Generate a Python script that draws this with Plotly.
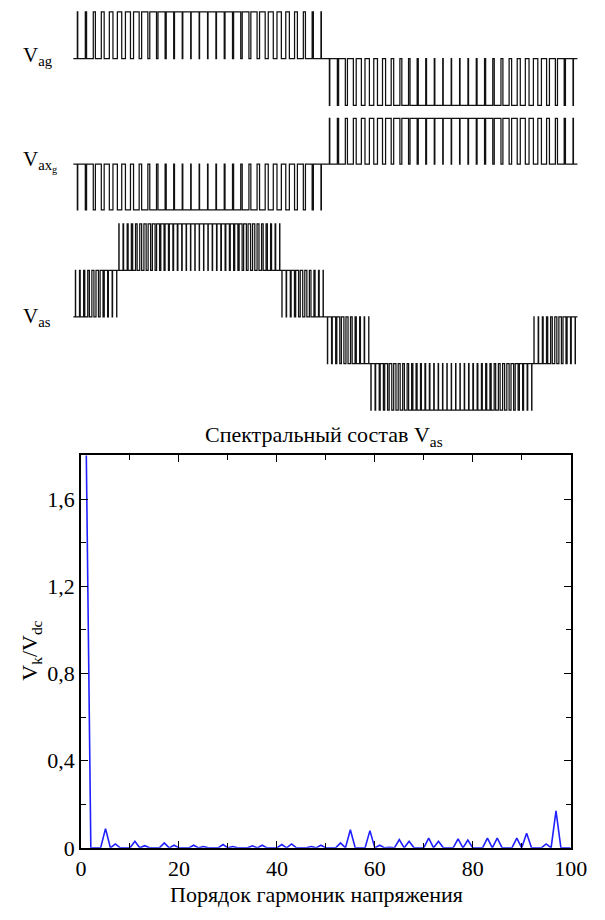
import plotly.graph_objects as go

# ---------------------------------------------------------------------------
# Spectrum of the phase voltage (amplitude of each harmonic, relative to Vdc)
# ---------------------------------------------------------------------------
harmonic_order = list(range(1, 101))
harmonic_amplitude = [
    1.95, 0, 0.0, 0, 0.088, 0, 0.018, 0, 0.0, 0,      # 1..10
    0.03, 0, 0.01, 0, 0.0, 0, 0.023, 0, 0.012, 0,     # 11..20
    0.0, 0, 0.012, 0, 0.006, 0, 0.0, 0, 0.015, 0,     # 21..30
    0.006, 0, 0.0, 0, 0.009, 0, 0.012, 0, 0.0, 0,     # 31..40
    0.015, 0, 0.018, 0, 0.0, 0, 0.006, 0, 0.012, 0,   # 41..50
    0.0, 0, 0.023, 0, 0.083, 0, 0.0, 0, 0.079, 0,     # 51..60
    0.012, 0, 0.003, 0, 0.038, 0, 0.03, 0, 0.0, 0,    # 61..70
    0.045, 0, 0.03, 0, 0.0, 0, 0.041, 0, 0.036, 0,    # 71..80
    0.0, 0, 0.045, 0, 0.045, 0, 0.0, 0, 0.045, 0,     # 81..90
    0.067, 0, 0.0, 0, 0.018, 0, 0.17, 0, 0.0, 0,      # 91..100
]

x_tick_values = [0, 20, 40, 60, 80, 100]
x_tick_labels = ["0", "20", "40", "60", "80", "100"]
y_tick_values = [0, 0.4, 0.8, 1.2, 1.6]
y_tick_labels = ["0", "0,4", "0,8", "1,2", "1,6"]

# ---------------------------------------------------------------------------
# Switching waveforms: duty of the active level in each carrier period
# ---------------------------------------------------------------------------
# leg voltage, one half-cycle of 30 carrier periods
leg_duty = [0.05, 0.15, 0.25, 0.34, 0.43, 0.52, 0.60, 0.67, 0.74, 0.80,
            0.85, 0.89, 0.92, 0.94, 0.95, 0.95, 0.94, 0.92, 0.89, 0.85,
            0.80, 0.74, 0.67, 0.60, 0.52, 0.43, 0.34, 0.25, 0.15, 0.05]

# phase voltage, one half-cycle of 58 carrier periods split in three bands
phase_duty_outer = [0.05, 0.16, 0.26, 0.37, 0.47, 0.57, 0.67, 0.77, 0.86, 0.95]
phase_duty_inner = [0.05, 0.13, 0.22, 0.30, 0.37, 0.44, 0.51, 0.58, 0.63, 0.69,
                    0.74, 0.78, 0.82, 0.85, 0.88, 0.91, 0.92, 0.93, 0.94,
                    0.94, 0.93, 0.92, 0.91, 0.88, 0.85, 0.82, 0.78, 0.74,
                    0.69, 0.63, 0.58, 0.51, 0.44, 0.37, 0.30, 0.22, 0.13, 0.05]

FONT = "Liberation Serif, Times New Roman, DejaVu Serif, serif"
W, H = 605, 920


def px_x(p):
    return p / W


def px_y(p):
    return 1 - p / H


def pwm_band(t0, period, duties, idle, active, xs, ys):
    """Append centre-aligned pulses (idle -> active -> idle) to xs/ys."""
    for k, d in enumerate(duties):
        a = t0 + k * period
        c = a + period / 2
        w = d * period
        xs += [a, c - w / 2, c + w / 2]
        ys += [idle, active, idle]
    return t0 + len(duties) * period


def leg_wave(sign_first):
    xs, ys = [], []
    p = 180 / len(leg_duty)
    t = pwm_band(0, p, leg_duty, 0, sign_first, xs, ys)
    t = pwm_band(t, p, leg_duty, 0, -sign_first, xs, ys)
    xs.append(t)
    ys.append(0)
    return xs, ys


def phase_wave():
    xs, ys = [], []
    n = 2 * len(phase_duty_outer) + len(phase_duty_inner)
    p = 180 / n
    t = 0
    for s in (1, -1):
        t = pwm_band(t, p, phase_duty_outer, 0, s, xs, ys)
        t = pwm_band(t, p, phase_duty_inner, s, 2 * s, xs, ys)
        t = pwm_band(t, p, phase_duty_outer[::-1], 0, s, xs, ys)
    xs.append(t)
    ys.append(0)
    return xs, ys


fig = go.Figure()

# horizontal placement of the waveform strips (pixels)
wx0, wx1 = 70, 594
pad_deg = 2
deg_px = (wx1 - wx0) / 360
wave_dom = [px_x(wx0 - pad_deg * deg_px), px_x(wx1 + pad_deg * deg_px)]


def wave_domain(top_px, bottom_px, lo, hi, pad=0.12):
    per = (bottom_px - top_px) / (hi - lo)
    return [px_y(bottom_px + pad * per), px_y(top_px - pad * per)], [lo - pad, hi + pad]


strips = [
    (leg_wave(1), 12, 107, -1, 1),
    (leg_wave(-1), 120, 213, -1, 1),
    (phase_wave(), 227, 416, -2, 2),
]

layout_axes = {}
for i, ((xs, ys), top, bot, lo, hi) in enumerate(strips, start=1):
    dom, rng = wave_domain(top, bot, lo, hi)
    fig.add_trace(go.Scatter(x=xs, y=ys, mode="lines", line_shape="hv",
                             line=dict(color="#111111", width=1.25),
                             xaxis=f"x{i}", yaxis=f"y{i}", hoverinfo="skip"))
    layout_axes[f"xaxis{i}"] = dict(domain=wave_dom, range=[-pad_deg, 360 + pad_deg],
                                    visible=False, anchor=f"y{i}")
    layout_axes[f"yaxis{i}"] = dict(domain=dom, range=rng, visible=False,
                                    anchor=f"x{i}")

# spectrum
fig.add_trace(go.Scatter(x=harmonic_order, y=harmonic_amplitude, mode="lines",
                         line=dict(color="#1f1fff", width=1.6),
                         xaxis="x4", yaxis="y4", hoverinfo="skip"))

axis_common = dict(showline=True, linecolor="black", linewidth=1.6, mirror="ticks",
                   ticks="inside", ticklen=7, tickwidth=1.3, tickcolor="black",
                   showgrid=False, zeroline=False,
                   tickfont=dict(family=FONT, size=22, color="black"))

layout_axes["xaxis4"] = dict(axis_common, domain=[px_x(78), px_x(587)], range=[0, 100],
                             tickvals=x_tick_values, ticktext=x_tick_labels,
                             minor=dict(ticks="inside", dtick=10, ticklen=5,
                                        tickcolor="black", tickwidth=1.2),
                             anchor="y4")
layout_axes["yaxis4"] = dict(axis_common, domain=[px_y(860), px_y(462)], range=[0, 1.8],
                             tickvals=y_tick_values, ticktext=y_tick_labels,
                             minor=dict(ticks="inside", dtick=0.2, ticklen=5,
                                        tickcolor="black", tickwidth=1.2),
                             anchor="x4")

label_font = dict(family=FONT, size=21, color="black")
text_font = dict(family=FONT, size=22, color="black")

annotations = [
    dict(text="V<sub>ag</sub>", x=px_x(16), y=px_y(57), xanchor="left", yanchor="middle",
         font=label_font),
    dict(text="V<sub>ax<sub>g</sub></sub>", x=px_x(16), y=px_y(163), xanchor="left",
         yanchor="middle", font=label_font),
    dict(text="V<sub>as</sub>", x=px_x(16), y=px_y(322), xanchor="left", yanchor="middle",
         font=label_font),
    dict(text="Спектральный состав V<sub>as</sub>", x=px_x(331), y=px_y(442),
         xanchor="center", yanchor="middle", font=dict(family=FONT, size=22, color="black")),
    dict(text="Порядок гармоник напряжения", x=px_x(323), y=px_y(907),
         xanchor="center", yanchor="middle", font=text_font),
    dict(text="V<sub>k</sub>/V<sub>dc</sub>", x=px_x(26), y=px_y(660), textangle=-90,
         xanchor="center", yanchor="middle", font=text_font),
]
for a in annotations:
    a.update(xref="paper", yref="paper", showarrow=False)

fig.update_layout(width=W, height=H, margin=dict(l=0, r=0, t=0, b=0),
                  paper_bgcolor="white", plot_bgcolor="white", showlegend=False,
                  font=dict(family=FONT, color="black"),
                  annotations=annotations, **layout_axes)

fig.write_html("out.html", config=dict(displayModeBar=False))
